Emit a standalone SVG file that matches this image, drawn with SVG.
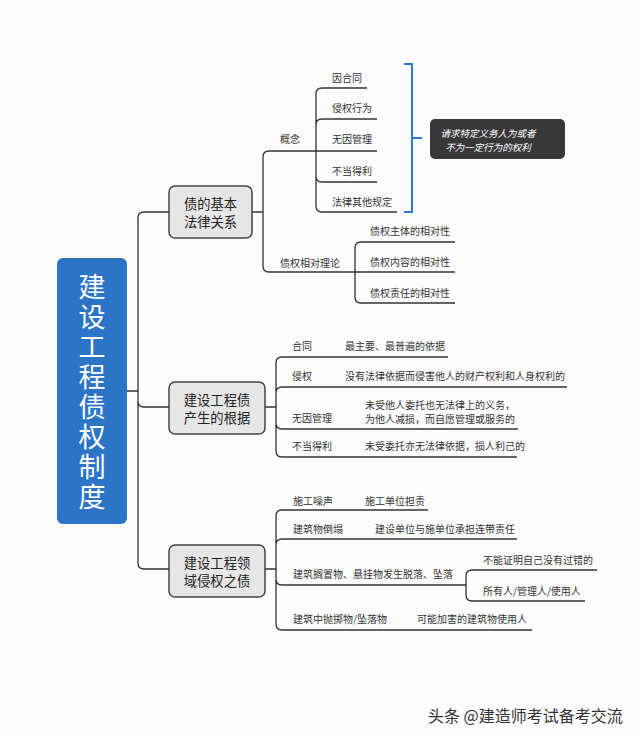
<svg xmlns="http://www.w3.org/2000/svg" width="640" height="736" viewBox="0 0 640 736">
<style>
.t{font-family:"Noto Sans CJK SC","Noto Sans",sans-serif;fill:#333;dominant-baseline:central}
.s{font-size:10px}
.b{font-size:13.3px;text-anchor:middle;fill:#222}
.c{fill:none;stroke:#333;stroke-width:1.3}
.box{fill:#e6e6e6;stroke:#444;stroke-width:1.5}
</style>
<rect width="640" height="736" fill="#fcfcfc"/>
<g id="connectors">
<path class="c" d="M127 391H138M138 391V218Q138 212 144 212H169M138 391V401Q138 407 144 407H169M138 391V563Q138 569 144 569H169"/>
<path class="c" d="M252 212H263M263 212V157Q263 151 269 151H316M263 212V266Q263 272 269 272H355"/>
<path class="c" d="M316 151V94Q316 88 322 88H367M316 151V125Q316 119 322 119H377M316 151H377M316 151V176Q316 182 322 182H377M316 151V206Q316 212 322 212H397"/>
<path class="c" d="M355 272V248Q355 242 361 242H455M355 272H455M355 272V297Q355 303 361 303H455"/>
<path class="c" d="M265 407H276M276 407V363Q276 357 282 357H448M276 407V393Q276 387 282 387H567M276 407V423Q276 429 282 429H518M276 407V451Q276 457 282 457H517"/>
<path class="c" d="M265 569H276M276 569V516Q276 510 282 510H428M276 569V545Q276 539 282 539H517M276 569V579Q276 585 282 585H466M276 569V624Q276 630 282 630H532"/>
<path class="c" d="M466 585V576Q466 570 472 570H597M466 585V595Q466 601 472 601H585"/>
<path fill="none" stroke="#2a7ad0" stroke-width="2" d="M404 64H412V212H404M412 138H422"/>
</g>
<g id="root">
<rect x="57" y="258" width="70" height="266" rx="6" fill="#2b74c6"/>
<text x="92" y="273" writing-mode="vertical-rl" letter-spacing="3" style="font-family:'Noto Sans CJK SC','Noto Sans',sans-serif;font-size:27px;fill:#fff">建设工程债权制度</text>
</g>
<g id="n1">
<rect class="box" x="169" y="186" width="83" height="52" rx="6"/>
<text class="t b" x="210.5" y="203">债的基本<tspan x="210.5" dy="18">法律关系</tspan></text>
</g>
<g id="n2">
<rect class="box" x="169" y="382" width="96" height="52" rx="6"/>
<text class="t b" x="217" y="399">建设工程债<tspan x="217" dy="18">产生的根据</tspan></text>
</g>
<g id="n3">
<rect class="box" x="169" y="545" width="96" height="52" rx="6"/>
<text class="t b" x="217" y="562">建设工程领<tspan x="217" dy="18">域侵权之债</tspan></text>
</g>
<g id="n1-leaves" class="t s">
<text x="280" y="138">概念</text>
<text x="332" y="77">因合同</text>
<text x="332" y="107">侵权行为</text>
<text x="332" y="138">无因管理</text>
<text x="332" y="170">不当得利</text>
<text x="332" y="201">法律其他规定</text>
<text x="280" y="262">债权相对理论</text>
<text x="370" y="230">债权主体的相对性</text>
<text x="370" y="261">债权内容的相对性</text>
<text x="370" y="292">债权责任的相对性</text>
</g>
<g id="note">
<rect x="430" y="119" width="135" height="40" rx="5" fill="#383838"/>
<text class="t" x="488" y="133" style="font-size:9.5px;fill:#fff;font-style:italic;text-anchor:middle">请求特定义务人为或者<tspan x="488" dy="14">不为一定行为的权利</tspan></text>
</g>
<g id="n2-leaves" class="t s">
<text x="292" y="345">合同</text><text x="345" y="345">最主要、最普遍的依据</text>
<text x="292" y="375">侵权</text><text x="345" y="375">没有法律依据而侵害他人的财产权利和人身权利的</text>
<text x="292" y="417">无因管理</text><text x="365" y="404">未受他人委托也无法律上的义务，<tspan x="365" dy="14">为他人减损，而自愿管理或服务的</tspan></text>
<text x="292" y="445">不当得利</text><text x="365" y="445">未受委托亦无法律依据，损人利己的</text>
</g>
<g id="n3-leaves" class="t s">
<text x="293" y="500">施工噪声</text><text x="365" y="500">施工单位担责</text>
<text x="293" y="528">建筑物倒塌</text><text x="375" y="528">建设单位与施单位承担连带责任</text>
<text x="293" y="573">建筑搁置物、悬挂物发生脱落、坠落</text>
<text x="483" y="559">不能证明自己没有过错的</text>
<text x="483" y="590">所有人/管理人/使用人</text>
<text x="293" y="618">建筑中抛掷物/坠落物</text><text x="417" y="618">可能加害的建筑物使用人</text>
</g>
<text class="t" x="428" y="715" style="font-size:16px;fill:#333">头条 @建造师考试备考交流</text>
</svg>
